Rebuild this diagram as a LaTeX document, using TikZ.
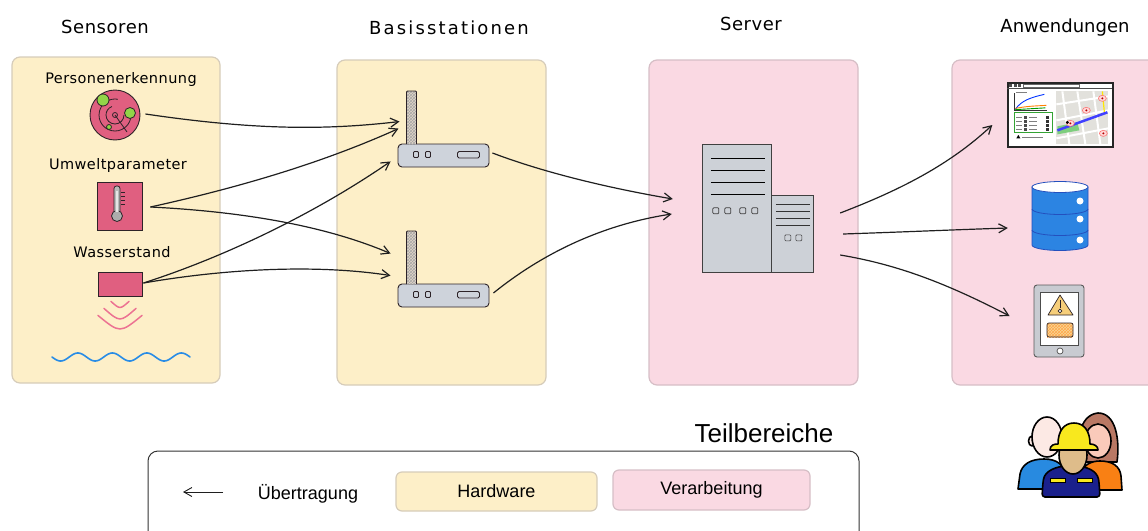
\documentclass[tikz,border=0pt]{standalone}
\usepackage{fontspec}
\setmainfont{Liberation Sans}
\newfontfamily\handfont[LetterSpace=3]{DejaVu Sans}
\newfontfamily\handwide[LetterSpace=12]{DejaVu Sans}
\newfontfamily\handtight{DejaVu Sans}
\usetikzlibrary{arrows.meta,calc,patterns}

\definecolor{hwfill}{RGB}{253,239,200}
\definecolor{hwline}{RGB}{214,204,186}
\definecolor{procfill}{RGB}{250,217,227}
\definecolor{procline}{RGB}{214,190,198}
\definecolor{sensred}{RGB}{224,95,128}
\definecolor{inkdark}{RGB}{45,35,40}
\definecolor{lime}{RGB}{146,212,72}
\definecolor{signalpink}{RGB}{236,114,146}
\definecolor{waterblue}{RGB}{40,140,230}
\definecolor{devgray}{RGB}{206,211,219}
\definecolor{antfill}{RGB}{226,214,200}
\definecolor{bldgray}{RGB}{205,209,215}
\definecolor{dbblue}{RGB}{44,132,226}
\definecolor{dbline}{RGB}{36,80,190}
\definecolor{phonegray}{RGB}{200,203,209}
\definecolor{warnyellow}{RGB}{246,206,122}
\definecolor{mapgray}{RGB}{226,225,220}
\definecolor{hairbrown}{RGB}{185,120,100}
\definecolor{skinpink}{RGB}{250,202,186}
\definecolor{skinlight}{RGB}{252,233,228}
\definecolor{skintan}{RGB}{222,188,138}
\definecolor{shirtorange}{RGB}{249,128,20}
\definecolor{shirtblue}{RGB}{40,138,224}
\definecolor{shirtnavy}{RGB}{26,32,140}
\definecolor{helmetyellow}{RGB}{248,232,30}

\begin{document}
\begin{tikzpicture}[x=1pt,y=-1pt,
  title/.style={font=\handfont\fontsize{18}{20}\selectfont, inner sep=0pt},
  sensorlabel/.style={font=\handfont\fontsize{14.5}{17}\selectfont, inner sep=0pt},
  hwpanel/.style={draw=hwline, fill=hwfill, line width=1.2pt, rounded corners=8pt, inner sep=0pt},
  procpanel/.style={draw=procline, fill=procfill, line width=1.2pt, rounded corners=8pt, inner sep=0pt},
  conn/.style={draw=black!88, line width=1.2pt, -{Straight Barb[length=8pt,width=9pt]}},
  device/.style={draw=inkdark, line width=0.9pt},
  router/.style={device, fill=devgray, rounded corners=4pt, minimum width=91pt, minimum height=23pt, inner sep=0pt},
  legendtext/.style={font=\fontsize{18}{20}\selectfont, inner sep=0pt},
  signal/.style={draw=signalpink, line width=1.5pt, line cap=round},
  person/.style={draw=black, line width=1.6pt, line join=round}
]
\useasboundingbox (0,0) rectangle (1148,530);
\clip (0,0) rectangle (1148,530);

% ---------- panels ----------
\node[hwpanel, minimum width=208pt, minimum height=326pt] (psens) at (116,220) {};
\node[hwpanel, minimum width=209pt, minimum height=325pt] (pbase) at (441.5,222.5) {};
\node[procpanel, minimum width=209pt, minimum height=325pt] (pserv) at (753.5,222.5) {};
\node[procpanel, minimum width=208pt, minimum height=325pt] (papps) at (1056,222.5) {};

% ---------- column titles ----------
\node[title] (tsens) at (105,27) {Sensoren};
\node[title, font=\handwide\fontsize{18}{20}\selectfont] (tbase) at (449,28) {Basisstationen};
\node[title] (tserv) at (751,24) {Server};
\node[title, font=\handtight\fontsize{18}{20}\selectfont] (tapps) at (1065,28) {Anwendungen};

% ---------- sensors ----------
\node[sensorlabel] (lpers) at (121,79) {Personenerkennung};
\node[sensorlabel] (lumw) at (118,165) {Umweltparameter};
\node[sensorlabel] (lwass) at (122,252) {Wasserstand};

% radar
\node[circle, device, fill=sensred, minimum size=50pt, inner sep=0pt] (radar) at (115,115) {};
\begin{scope}[shift={(radar.center)}, draw=inkdark, line width=0.8pt]
  \draw (0,0) circle (2.5);
  \draw (9,0) arc[start angle=0, end angle=250, radius=9];
  \draw (16,0) arc[start angle=0, end angle=280, radius=16];
  \draw (0,0) -- (12,17);
  \draw[fill=lime] (-12,-15) circle (6);
  \draw[fill=lime] (15,-2) circle (5.5);
  \draw[fill=lime] (-6,12) circle (2.5);
\end{scope}

% thermometer
\node[device, fill=sensred, minimum width=45pt, minimum height=48pt, inner sep=0pt] (thermo) at (119.5,206) {};
\begin{scope}[shift={(thermo.center)}, draw=inkdark, line width=0.8pt]
  \draw[fill=gray!55, rounded corners=2.5pt] (-5.5,-20) rectangle (0.5,8);
  \draw[fill=gray!65] (-2.5,10) circle (5.5);
  \fill[gray!65] (-4.6,4) rectangle (-0.4,9);
  \draw[white!80!gray, line width=1.2pt] (-2.5,-15) -- (-2.5,6);
  \foreach \ty in {-14,-10,-6,-2} \draw (1.5,\ty) -- (5,\ty);
\end{scope}

% water level sensor
\node[device, fill=sensred, minimum width=44pt, minimum height=24pt, inner sep=0pt] (water) at (120,284) {};
\begin{scope}[shift={(water.south)}]
  \draw[signal] (-9,5) .. controls (0,13) .. (9,5);
  \draw[signal] (-16,12) .. controls (0,26) .. (16,12);
  \draw[signal] (-22,19) .. controls (0,37) .. (22,19);
\end{scope}
\draw[waterblue, line width=1.6pt, line cap=round]
  plot[domain=52:190, samples=140, smooth] (\x,{357+4*sin(10.435*(\x-52))});

% ---------- base stations ----------
\node[router] (r1) at (443.5,155.5) {};
\node[router] (r2) at (443.5,295.5) {};
\foreach \r in {r1,r2}{
  \begin{scope}[shift={(\r.west)}, draw=inkdark, line width=0.8pt]
    \fill[antfill] (9,-64.5) rectangle (19,-11.5);
    \fill[pattern=crosshatch, pattern color=gray!70] (9,-64.5) rectangle (19,-11.5);
    \draw[rounded corners=1pt] (9,-11.5) -- (9,-64.5) -- (19,-64.5) -- (19,-11.5);
    \draw[rounded corners=1pt] (16,-4) rectangle (21,2);
    \draw[rounded corners=1pt] (28,-4) rectangle (33,2);
    \draw[rounded corners=1.5pt] (60,-4) rectangle (82,2.5);
  \end{scope}
}

% ---------- server ----------
\node[minimum width=111pt, minimum height=128pt, inner sep=0pt] (srv) at (758.5,209) {};
\begin{scope}[shift={(srv.north west)}, draw=black!75, line width=0.9pt]
  \draw[fill=bldgray] (0,0) rectangle (69,128);
  \draw[fill=bldgray] (69,51) rectangle (111,128);
  \foreach \ly in {14,26,38,50} \draw[black, line width=1.3pt] (8,\ly) -- (62,\ly);
  \foreach \sx in {10,22,37,49} \draw[rounded corners=1pt, line width=0.7pt] (\sx,63) rectangle (\sx+6,69);
  \foreach \ly in {60,67,74,81} \draw[black!80, line width=0.8pt] (73,\ly) -- (107,\ly);
  \foreach \sx in {82,93} \draw[rounded corners=1pt, line width=0.6pt] (\sx,90) rectangle (\sx+6,96);
\end{scope}

% ---------- applications ----------
% dashboard
\node[draw=black!85, fill=white, line width=1.3pt, minimum width=105pt, minimum height=64pt, inner sep=0pt] (dash) at (1060.5,115) {};
\begin{scope}[shift={(dash.north west)}]
  \draw[black!70, line width=0.5pt] (0,6) -- (105,6);
  \fill[black!70] (2,1.5) rectangle (5,4.5);
  \fill[black!70] (6.5,1.5) rectangle (9.5,4.5);
  \fill[black!70] (11,1.5) rectangle (14,4.5);
  \draw[black!60, line width=0.4pt] (16,1.5) rectangle (72,4.5);
  \draw[black!80, line width=0.6pt] (7,11) -- (7,28) -- (40,28);
  \draw[gray, line width=0.4pt] (9,10) -- (20,10);
  \draw[blue!80!cyan, line width=0.9pt] (8,27) .. controls (14,18) and (24,15) .. (37,12);
  \draw[orange, line width=0.9pt] (8,26) .. controls (20,24) .. (39,23);
  \draw[green!60!black, line width=0.9pt] (8,27.3) -- (38,25.5);
  \draw[green!55!black!80, line width=0.8pt] (7,30) rectangle (45,50);
  \foreach \ry in {35,39,43,47}{
    \draw[gray, line width=0.4pt] (9,\ry) -- (15,\ry);
    \fill[black!70] (17,\ry-1.3) rectangle (19.5,\ry+1.3);
    \draw[gray, line width=0.4pt] (22,\ry) -- (30,\ry);
    \fill[black!80] (39,\ry-1.3) rectangle (42,\ry+1.3);
  }
  \fill[black] (9,56) -- (11,52.5) -- (13,56) -- cycle;
  \draw[gray, line width=0.4pt] (15,54.5) -- (36,54.5);
  \fill[mapgray] (49,9) rectangle (101,62);
  \begin{scope}[draw=white, line width=2pt]
    \draw (55,9) -- (62,62);
    \draw (70,9) -- (78,62);
    \draw (86,9) -- (93,62);
    \draw (49,22) -- (101,14);
    \draw (49,38) -- (101,28);
    \draw (49,56) -- (101,46);
  \end{scope}
  \fill[green!45!gray!70] (50,44) -- (70,40) -- (72,48) -- (50,52) -- cycle;
  \draw[yellow!90!orange, line width=1.2pt] (95,9) -- (97,30);
  \draw[blue!75, line width=2.5pt] (50,48) -- (100,30);
  \foreach \px/\py in {95/16, 79/28, 63/41, 96/51}{
    \draw[red!60, fill=pink!60, line width=0.5pt] (\px,\py) ellipse [x radius=4, y radius=3];
    \fill[red!70!black] (\px,\py) circle (1.1);
  }
  \fill[black] (60,40) circle (1.6);
\end{scope}

% database
\node[minimum width=56pt, minimum height=70pt, inner sep=0pt] (db) at (1060,216) {};
\begin{scope}[shift={(db.center)}, draw=dbline, line width=0.8pt]
  \filldraw[fill=dbblue] (-28,-29) -- (-28,29) arc[start angle=180, end angle=0, x radius=28, y radius=5.5]
    -- (28,-29) -- cycle;
  \draw[fill=white] (0,-29) ellipse [x radius=28, y radius=5.5];
  \draw (-28,-7) arc[start angle=180, end angle=0, x radius=28, y radius=5.5];
  \draw (-28,14) arc[start angle=180, end angle=0, x radius=28, y radius=5.5];
  \foreach \dy in {-15,3,24} \fill[white] (20,\dy) circle (3.5);
\end{scope}

% phone with warning
\node[draw=gray!70!black, fill=phonegray, rounded corners=3pt, line width=0.9pt, minimum width=50pt, minimum height=72pt, inner sep=0pt] (phone) at (1059,321) {};
\begin{scope}[shift={(phone.center)}, draw=inkdark, line width=0.7pt]
  \draw[draw=gray!60!black, fill=white] (-19,-29) rectangle (19,24);
  \draw[fill=warnyellow, line join=round] (1,-26) -- (14,-6) -- (-11,-6) -- cycle;
  \draw[line width=1pt] (1,-21) -- (1,-13);
  \draw[fill=white] (1,-10) circle (1.8);
  \fill[warnyellow!80!white] (-12,2) rectangle (14,16);
  \fill[pattern=crosshatch, pattern color=orange!70] (-12,2) rectangle (14,16);
  \draw[rounded corners=2pt] (-12,2) rectangle (14,16);
  \draw[draw=gray!60!black, fill=white] (1,30) circle (3);
\end{scope}

% user group
\draw[person, fill=hairbrown] (1080,462) .. controls (1076,445) and (1078,415) .. (1098,413)
  .. controls (1116,413) and (1120,440) .. (1117,462) -- cycle;
\draw[person, fill=shirtorange] (1080,490) -- (1081,474) .. controls (1083,465) and (1091,461) .. (1100,461)
  .. controls (1112,461) and (1120,466) .. (1121,476) -- (1122,490) -- cycle;
\draw[person, fill=skinpink] (1098,441) ellipse [x radius=13, y radius=17];
\draw[person, fill=shirtblue] (1018,489) -- (1020,474) .. controls (1022,464) and (1031,459) .. (1044,459)
  .. controls (1057,459) and (1064,465) .. (1065,474) -- (1066,489) -- cycle;
\draw[person, fill=skinlight] (1032,441) ellipse [x radius=3.5, y radius=5];
\draw[person, fill=skinlight] (1062,441) ellipse [x radius=3.5, y radius=5];
\draw[person, fill=skinlight] (1047,437) ellipse [x radius=15, y radius=20];
\draw[person, fill=shirtnavy, rounded corners=3pt] (1042,497) -- (1043,482) .. controls (1045,471) and (1056,466) .. (1071,466)
  .. controls (1087,466) and (1097,471) .. (1099,482) -- (1100,497) -- cycle;
\draw[black, line width=0.6pt, fill=helmetyellow] (1050,478) rectangle (1065,482);
\draw[black, line width=0.6pt, fill=helmetyellow] (1077,478) rectangle (1092,482);
\draw[person, fill=skintan] (1073,455) ellipse [x radius=14, y radius=19];
\draw[person, fill=helmetyellow] (1050,450) .. controls (1050,445) and (1054,444) .. (1058,444)
  .. controls (1058,431) and (1064,423) .. (1074,423) .. controls (1084,423) and (1090,431) .. (1090,444)
  .. controls (1094,444) and (1098,446) .. (1098,450) -- cycle;

% ---------- transmissions ----------
\draw[conn] ($(radar.east)+(5,-1)$) .. controls +(115,17) and +(-70,8) .. ($(r1.north west)+(2,-22)$);
\draw[conn] ($(thermo.east)+(8,1)$) .. controls +(100,-22) and +(-69,31) .. ($(r1.north west)+(1,-15)$);
\draw[conn] ($(thermo.east)+(8,1)$) .. controls +(100,5) and +(-61,-26) .. ($(r2.north west)+(-7,-30)$);
\draw[conn] ($(water.east)+(1,-1)$) .. controls +(87,-28) and +(-71,49) .. ($(r1.south west)+(-7,-6)$);
\draw[conn] ($(water.east)+(1,-1)$) .. controls +(87,-15) and +(-71,-11) .. ($(r2.north west)+(-7,-8)$);
\draw[conn] ($(r1.east)+(3,-2.5)$) .. controls +(58,22) and +(-53,-9) .. ($(srv.west)+(-30,-10)$);
\draw[conn] ($(r2.east)+(4,-2.5)$) .. controls +(47,-38) and +(-72,11) .. ($(srv.west)+(-31,5)$);
\draw[conn] ($(srv.east)+(26,4)$) .. controls +(60,-23) and +(-43,40) .. ($(dash.west)+(-15,10)$);
\draw[conn] ($(srv.east)+(29,25)$) .. controls +(60,-2) and +(-60,2) .. ($(db.west)+(-24,12)$);
\draw[conn] ($(srv.east)+(26,46)$) .. controls +(60,10) and +(-60,-31) .. ($(phone.west)+(-24,-5)$);

% ---------- legend ----------
\node[font=\fontsize{26}{30}\selectfont, inner sep=0pt] (ltitle) at (764,433) {Teilbereiche};
\node[draw=black!80, line width=1pt, rounded corners=10pt, minimum width=711pt, minimum height=100pt, inner sep=0pt] (legend) at (503.5,501) {};
\coordinate (lgfrom) at (223,492);
\coordinate (lgto) at (183,492);
\draw[conn, line width=0.9pt] (lgfrom) -- (lgto);
\node[legendtext] (lgtx) at (308,494) {Übertragung};
\node[hwpanel, rounded corners=6pt, minimum width=201pt, minimum height=39pt, legendtext] (lghw) at (496.5,491.5) {Hardware};
\node[procpanel, rounded corners=6pt, minimum width=197pt, minimum height=40pt, legendtext] (lgproc) at (711.5,490) {Verarbeitung};
\end{tikzpicture}
\end{document}
